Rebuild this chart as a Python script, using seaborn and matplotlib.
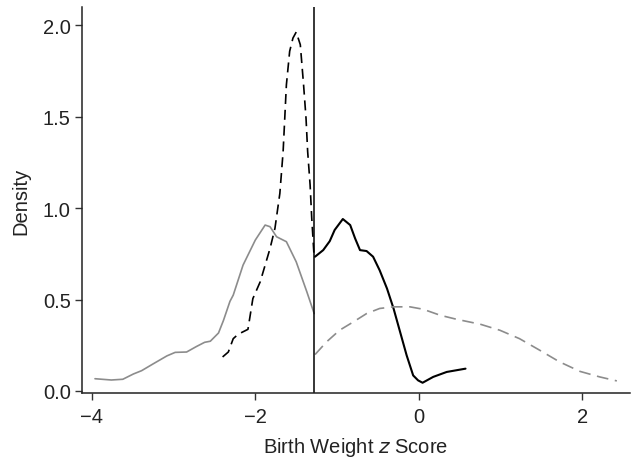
import matplotlib
matplotlib.use("Agg")
import matplotlib.pyplot as plt
import seaborn as sns
import pandas as pd

# Gray solid: below cutoff, group A
gray_solid_x = [-3.96, -3.76, -3.62, -3.49, -3.39, -3.25, -3.08, -2.98, -2.84, -2.72, -2.62, -2.55,
                -2.45, -2.39, -2.31, -2.27, -2.15, -2.00, -1.88, -1.82, -1.74, -1.62, -1.50, -1.37, -1.28]
gray_solid_y = [0.067, 0.060, 0.064, 0.093, 0.111, 0.148, 0.192, 0.211, 0.213, 0.243, 0.266, 0.272,
                0.317, 0.385, 0.490, 0.524, 0.688, 0.825, 0.907, 0.898, 0.843, 0.816, 0.706, 0.542, 0.423]

# Black dashed: below cutoff, group B
black_dash_x = [-2.40, -2.33, -2.27, -2.21, -2.09, -2.03, -1.94, -1.82, -1.76, -1.70, -1.66, -1.64,
                -1.62, -1.58, -1.54, -1.50, -1.45, -1.41, -1.38, -1.36, -1.33, -1.31, -1.28]
black_dash_y = [0.186, 0.213, 0.286, 0.310, 0.337, 0.505, 0.597, 0.779, 0.889, 1.080, 1.309, 1.491,
                1.674, 1.857, 1.929, 1.962, 1.893, 1.674, 1.491, 1.309, 1.126, 0.944, 0.725]

# Black solid: above cutoff, group B
black_solid_x = [-1.27, -1.17, -1.09, -1.03, -0.93, -0.84, -0.78, -0.72, -0.64, -0.56, -0.48, -0.39,
                 -0.31, -0.23, -0.15, -0.07, -0.01, 0.045, 0.175, 0.34, 0.57]
black_solid_y = [0.734, 0.770, 0.819, 0.880, 0.940, 0.907, 0.834, 0.770, 0.765, 0.734, 0.660, 0.560,
                 0.451, 0.323, 0.195, 0.085, 0.058, 0.045, 0.077, 0.104, 0.122]

# Gray dashed: above cutoff, group A
gray_dash_x = [-1.27, -1.13, -0.97, -0.80, -0.64, -0.48, -0.31, -0.11, 0.05, 0.26, 0.46, 0.75,
               0.99, 1.23, 1.48, 1.72, 1.97, 2.21, 2.42]
gray_dash_y = [0.199, 0.268, 0.332, 0.378, 0.423, 0.451, 0.460, 0.460, 0.447, 0.414, 0.392, 0.365,
               0.332, 0.286, 0.222, 0.159, 0.107, 0.077, 0.055]

cutoff = -1.28
x_ticks = [-4, -2, 0, 2]
y_ticks = [0.0, 0.5, 1.0, 1.5, 2.0]

sns.set_theme(style="ticks")
plt.rcParams['font.family'] = ['Liberation Sans', 'DejaVu Sans']

fig, ax = plt.subplots(figsize=(6.35, 4.6), dpi=100)
fig.subplots_adjust(left=0.129, right=0.992, bottom=0.1435, top=0.983)

gray = "#8c8c8c"
sns.lineplot(x=gray_solid_x, y=gray_solid_y, ax=ax, color=gray, lw=1.2, estimator=None, sort=False)
sns.lineplot(x=black_dash_x, y=black_dash_y, ax=ax, color="black", lw=1.2, estimator=None, sort=False,
             dashes=False).lines[-1].set_dashes((6, 3.5))
sns.lineplot(x=black_solid_x, y=black_solid_y, ax=ax, color="black", lw=1.5, estimator=None, sort=False)
sns.lineplot(x=gray_dash_x, y=gray_dash_y, ax=ax, color=gray, lw=1.2, estimator=None, sort=False).lines[-1].set_dashes((7, 4))

ax.axvline(cutoff, color="black", lw=1.1)

ax.set_xlim(-4.12, 2.58)
ax.set_ylim(-0.011, 2.10)
ax.set_xticks(x_ticks)
ax.set_xticklabels(["\u22124", "\u22122", "0", "2"])
ax.set_yticks(y_ticks)
ax.set_yticklabels(["0.0", "0.5", "1.0", "1.5", "2.0"])
ax.tick_params(axis="both", labelsize=14.5, length=5, width=1, color="#333333", labelcolor="#222222")
ax.tick_params(axis="x", pad=5)
ax.tick_params(axis="y", pad=3)
ax.set_xlabel("Birth Weight $\\it{z}$ Score", fontsize=14.5, color="#222222", labelpad=6.5)
ax.set_ylabel("Density", fontsize=14.5, color="#222222", labelpad=9)
for s in ["top", "right"]:
    ax.spines[s].set_visible(False)
for s in ["left", "bottom"]:
    ax.spines[s].set_linewidth(1.1)
    ax.spines[s].set_color("#222222")

fig.savefig("out.png", dpi=100)
